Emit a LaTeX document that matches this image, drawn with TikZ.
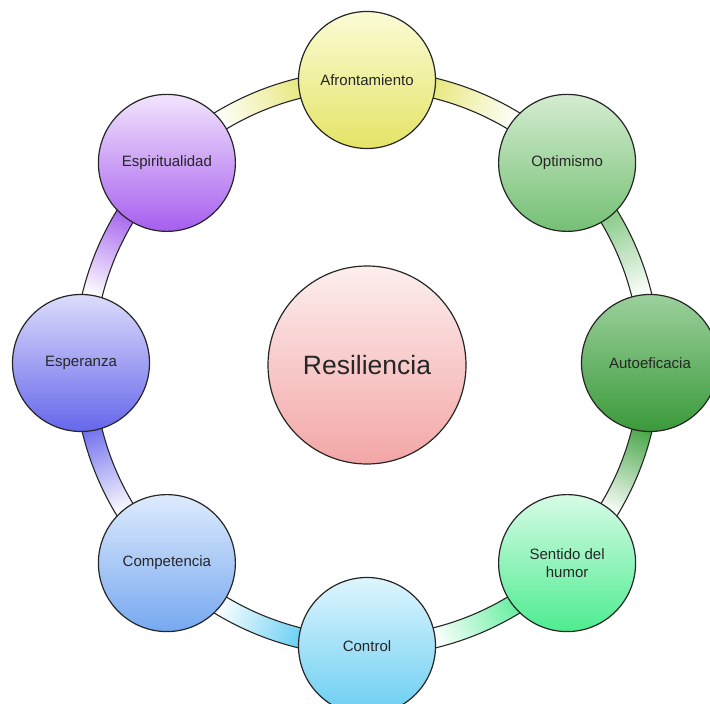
\documentclass[tikz,border=0pt]{standalone}
\usepackage{fontspec}
\setmainfont{Liberation Sans}
\definecolor{afrT}{HTML}{FBFBD6}\definecolor{afrB}{HTML}{E4E466}
\definecolor{optT}{HTML}{D4ECD0}\definecolor{optB}{HTML}{74C074}
\definecolor{autT}{HTML}{9CD09C}\definecolor{autB}{HTML}{3A9A3A}
\definecolor{senT}{HTML}{D6FBE6}\definecolor{senB}{HTML}{4EEC90}
\definecolor{ctlT}{HTML}{DEF5FD}\definecolor{ctlB}{HTML}{6ACEF2}
\definecolor{comT}{HTML}{DEEBFD}\definecolor{comB}{HTML}{76A8F0}
\definecolor{espT}{HTML}{DCDCFB}\definecolor{espB}{HTML}{6666EC}
\definecolor{spiT}{HTML}{F2E4FD}\definecolor{spiB}{HTML}{A65EEE}
\definecolor{resT}{HTML}{FDEEEE}\definecolor{resB}{HTML}{F3A6A6}
\definecolor{bafr}{HTML}{E8E880}
\definecolor{bopt}{HTML}{88CA88}
\definecolor{baut}{HTML}{4CA84C}
\definecolor{bsen}{HTML}{66EEA0}
\definecolor{bctl}{HTML}{6CD0F4}
\definecolor{besp}{HTML}{7474EE}
\definecolor{bspi}{HTML}{A666EE}
\begin{document}
\begin{tikzpicture}[x=1pt,y=1pt,
  bub/.style={circle, draw=black!85, line width=1.2pt, minimum size=137pt, inner sep=0pt,
    font=\fontsize{15}{17.5}\selectfont, align=center, text=black!85},
  band/.style={draw=black!85, line width=1.1pt}]
\useasboundingbox (0,0) rectangle (710,704);
\coordinate (C) at (367,341);
\newcommand\ringband[4]{%
  \path[band, top color=#3, bottom color=white, shading angle=#4]
    ([shift={(#1:293)}]C) arc[start angle=#1, end angle=#2, radius=293]
    -- ([shift={(#2:273)}]C) arc[start angle=#2, end angle=#1, radius=273] -- cycle;}
% connectors (bands)
\ringband{78}{57}{bafr}{67.5}
\ringband{33}{12}{bopt}{22.5}
\ringband{-12}{-33}{baut}{-22.5}
\ringband{-57}{-78}{bsen}{-67.5}
\ringband{-102}{-123}{bctl}{-112.5}
\ringband{-147}{-168}{besp}{22.5}
\ringband{168}{147}{bspi}{-22.5}
\ringband{123}{102}{bafr}{-67.5}
% nodes
\node[bub, top color=afrT, bottom color=afrB] (afr) at ([shift={(90:283)}]C) {Afrontamiento};
\node[bub, top color=optT, bottom color=optB] (opt) at ([shift={(45:283)}]C) {Optimismo};
\node[bub, top color=autT, bottom color=autB] (aut) at ([shift={(0:283)}]C) {Autoeficacia};
\node[bub, top color=senT, bottom color=senB] (sen) at ([shift={(-45:283)}]C) {Sentido del\\humor};
\node[bub, top color=ctlT, bottom color=ctlB] (ctl) at ([shift={(-90:283)}]C) {Control};
\node[bub, top color=comT, bottom color=comB] (com) at ([shift={(-135:283)}]C) {Competencia};
\node[bub, top color=espT, bottom color=espB] (esp) at ([shift={(180:286)}]C) {Esperanza};
\node[bub, top color=spiT, bottom color=spiB] (spi) at ([shift={(135:283)}]C) {Espiritualidad};
\node[bub, minimum size=198pt, top color=resT, bottom color=resB,
  font=\fontsize{26.5}{30}\selectfont] (res) at (367,339) {Resiliencia};
\end{tikzpicture}
\end{document}
